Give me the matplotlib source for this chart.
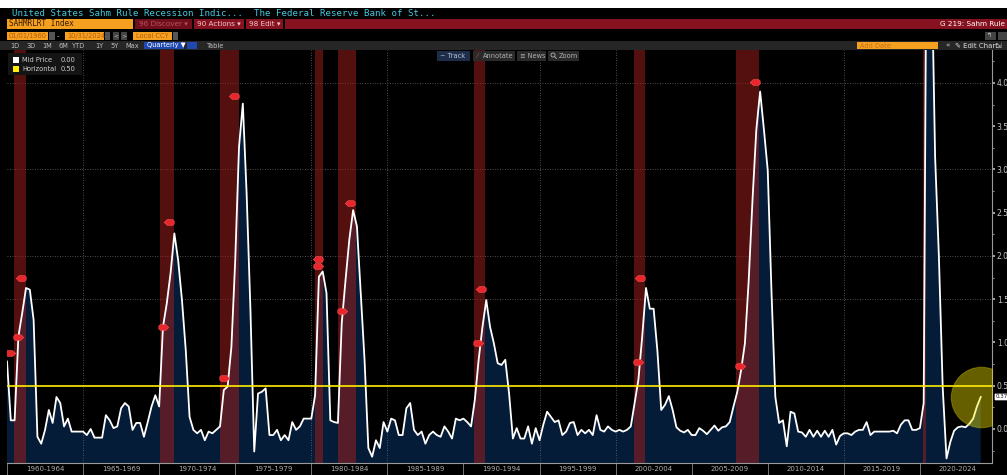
import numpy as np
import matplotlib.pyplot as plt
from matplotlib.patches import Rectangle, Ellipse
from matplotlib.lines import Line2D

W, H = 1007, 475

# Sahm rule indicator, quarterly, 1960 Q1 .. 2024 Q1
sahm_values = [
    0.78, 0.10, 0.10, 1.07, 1.34, 1.63, 1.61, 1.26, -0.09, -0.17,
    -0.01, 0.22, 0.07, 0.37, 0.30, 0.03, 0.12, -0.03, -0.03, -0.03,
    -0.03, -0.07, 0.00, -0.10, -0.10, -0.10, 0.16, 0.10, 0.01, 0.03,
    0.24, 0.30, 0.26, -0.01, 0.07, 0.07, -0.09, 0.08, 0.26, 0.39,
    0.26, 1.18, 1.45, 1.80, 2.26, 1.95, 1.49, 0.91, 0.14, -0.01,
    -0.05, -0.01, -0.13, -0.03, -0.05, -0.01, 0.03, 0.45, 0.49, 0.95,
    1.95, 3.26, 3.76, 2.72, 1.38, -0.26, 0.41, 0.43, 0.47, -0.07,
    -0.07, -0.01, -0.13, -0.07, -0.13, 0.08, -0.01, 0.03, 0.12, 0.12,
    0.12, 0.39, 1.76, 1.82, 1.57, 0.10, 0.08, 0.07, 1.22, 1.72,
    2.19, 2.53, 2.34, 1.57, 0.80, -0.22, -0.32, -0.13, -0.22, 0.08,
    -0.03, 0.12, 0.10, -0.07, -0.07, 0.24, 0.30, -0.01, -0.07, -0.03,
    -0.17, -0.07, -0.03, -0.07, -0.09, 0.03, -0.03, -0.11, 0.12, 0.10,
    0.12, 0.08, 0.03, 0.34, 0.80, 1.18, 1.49, 1.18, 0.99, 0.76,
    0.74, 0.80, 0.41, -0.11, 0.01, -0.11, -0.11, 0.03, -0.17, 0.01,
    -0.13, 0.05, 0.20, 0.14, 0.08, 0.10, -0.07, -0.03, 0.07, 0.08,
    -0.07, -0.01, -0.05, -0.01, -0.07, 0.16, -0.01, -0.03, 0.03, -0.01,
    -0.03, -0.01, -0.03, -0.01, 0.03, 0.30, 0.57, 1.07, 1.63, 1.39,
    1.39, 0.90, 0.22, 0.28, 0.38, 0.22, 0.02, -0.02, -0.04, -0.01,
    -0.07, -0.07, 0.01, -0.02, -0.06, -0.01, 0.04, -0.02, 0.02, 0.03,
    0.08, 0.26, 0.43, 0.68, 0.99, 1.72, 2.65, 3.46, 3.90, 3.46,
    2.99, 1.57, 0.37, 0.07, 0.10, -0.20, 0.20, 0.18, -0.03, -0.04,
    -0.09, -0.01, -0.09, -0.02, -0.09, -0.02, -0.09, -0.01, -0.18, -0.08,
    -0.05, -0.05, -0.07, -0.03, -0.01, -0.01, 0.08, -0.07, -0.03, -0.03,
    -0.03, -0.03, -0.03, -0.02, -0.05, 0.05, 0.10, 0.10, -0.01, -0.01,
    0.01, 0.30, 7.80, 5.60, 3.15, 1.99, 0.48, -0.34, -0.15, -0.02,
    0.02, 0.03, 0.02, 0.06, 0.12, 0.26, 0.37,
]
dates = 1960 + np.arange(len(sahm_values)) * 0.25

threshold = 0.50

# recession shading (decimal years)
rec_start = [1960.49, 1970.03, 1973.98, 1980.22, 1981.75, 1990.71, 2001.22, 2007.92, 2020.19]
rec_end = [1961.23, 1970.95, 1975.22, 1980.74, 1982.96, 1991.43, 2001.95, 2009.43, 2020.41]

# red event tags: (year, value, direction)
tag_years = [1960.22, 1960.75, 1960.95, 1970.28, 1970.67, 1974.28, 1974.94, 1980.46, 1980.46,
             1982.03, 1982.56, 1990.97, 1991.17, 2001.49, 2001.62, 2008.19, 2009.17]
tag_vals = [0.88, 1.06, 1.74, 1.18, 2.39, 0.59, 3.85, 1.96, 1.88,
            1.36, 2.61, 0.99, 1.62, 0.77, 1.75, 0.73, 4.01]
tag_dir = ["R", "R", "L", "R", "L", "R", "L", "L", "R",
           "R", "L", "R", "L", "R", "L", "R", "L"]

period_labels = [f"{y}-{y + 4}" for y in range(1960, 2021, 5)]
grid_years = [1965, 1980, 1985, 1995, 2000, 2015]
grid_levels = [1.5, 2.0, 3.0, 4.0]


def fx(px):
    return px / W


def fy(py):
    return 1 - py / H


def box(x0, y0, x1, y1, color):
    fig.add_artist(Rectangle((fx(x0), fy(y1)), (x1 - x0) / W, (y1 - y0) / H,
                             transform=fig.transFigure, facecolor=color,
                             edgecolor="none", zorder=1))


def label(px, py, s, color, size=5.2, ha="left", **kw):
    fig.text(fx(px), fy(py), s, color=color, fontsize=size, ha=ha, va="center", **kw)


fig = plt.figure(figsize=(W / 100, H / 100), dpi=100, facecolor="black")

# --- Bloomberg style header ---
box(0, 0, W, 8, "white")
box(0, 8, W, 18, "black")
label(12, 13.5, "United States Sahm Rule Recession Indic...  The Federal Reserve Bank of St...",
      "#45c8dc", size=6.6, family="DejaVu Sans Mono")

box(0, 18, W, 30, "black")
box(7, 19, 133, 29, "#f5a01e")
label(9, 24, "SAHMRLRT Index", "#3a1a00", size=5.6, family="DejaVu Sans Mono")
box(135, 19, 192, 29, "#6e0f1b")
label(139, 24, "96 Discover \u25be", "#c0505c", size=5.2)
box(194, 19, 244, 29, "#86111f")
label(197, 24, "90 Actions \u25be", "#f2c6cc", size=5.2)
box(246, 19, 283, 29, "#86111f")
label(249, 24, "98 Edit \u25be", "#f2c6cc", size=5.2)
box(285, 19, W, 29, "#86111f")
label(1005, 24, "G 219: Sahm Rule", "white", size=5.2, ha="right")

box(0, 30, W, 41, "black")
box(7, 32, 48, 40, "#f5a01e")
label(9, 36, "01/01/1960", "#b85a10", size=4.8)
box(49, 32, 55, 40, "#555555")
label(57, 36, "-", "#cccccc", size=5)
box(65, 32, 104, 40, "#f5a01e")
label(67, 36, "10/31/2024", "#b85a10", size=4.8)
box(105, 32, 110, 40, "#555555")
box(113, 32, 119, 40, "#444444")
label(116, 36, "<", "#bbbbbb", size=4.5, ha="center")
box(121, 32, 127, 40, "#444444")
label(124, 36, ">", "#bbbbbb", size=4.5, ha="center")
box(133, 32, 172, 40, "#f5a01e")
label(136, 36, "Local CCY", "#b85a10", size=4.8)
box(173, 32, 178, 40, "#555555")
box(985, 32, 996, 40, "#444444")
label(990, 36, "\u21b0", "#cccccc", size=4.5, ha="center")
box(998, 32, W, 40, "#444444")

box(0, 41, W, 50, "#262626")
for px, s in zip([15, 31, 47, 63, 79, 99, 115, 132],
                 ["1D", "3D", "1M", "6M", "YTD", "1Y", "5Y", "Max"]):
    label(px, 45.5, s, "#bdbdbd", size=4.8, ha="center")
box(144, 42, 184, 49, "#1f48b0")
label(147, 45.5, "Quarterly \u25bc", "white", size=4.8)
box(187, 42, 197, 49, "#1f48b0")
label(207, 45.5, "Table", "#bdbdbd", size=4.8)
box(857, 42, 938, 49, "#f5a01e")
label(860, 45.5, "Add Date", "#c07020", size=4.8)
label(948, 45.5, "\u00ab", "#cccccc", size=5.2, ha="center")
label(955, 45.5, "\u270e Edit Chart", "#dddddd", size=5)
label(999, 45.5, "\u21f2", "#cccccc", size=5, ha="center")

# --- main chart ---
ax = fig.add_axes([fx(7), fy(463), (992 - 7) / W, (463 - 50) / H])
ax.set_facecolor("black")
ymin, ymax = -0.393, 4.38
ax.set_xlim(1960, 2024.74)
ax.set_ylim(ymin, ymax)

for lv in grid_levels:
    ax.axhline(lv, color="#6a6a6a", lw=0.6, ls=(0, (1, 2)), zorder=0.5)
for gx in grid_years:
    ax.axvline(gx, color="#6a6a6a", lw=0.6, ls=(0, (1, 2)), zorder=1.2)

ax.fill_between(dates, sahm_values, ymin, color="#051c38", lw=0, zorder=1)

for s, e in zip(rec_start, rec_end):
    ax.axvspan(s, e, color="#9a1c1c", alpha=0.55, lw=0, zorder=1.5)

ax.plot(dates, sahm_values, color="white", lw=1.3, zorder=3)
ax.axhline(threshold, color="#ffee00", lw=1.2, zorder=3.5)

tag_l = [(-1, 0), (-0.45, 0.55), (0.6, 0.55), (0.9, 0.3), (0.9, -0.3), (0.6, -0.55), (-0.45, -0.55), (-1, 0)]
tag_r = [(-x, y) for x, y in tag_l]
for tx, tv, d in zip(tag_years, tag_vals, tag_dir):
    ax.plot(tx, tv, marker=tag_l if d == "L" else tag_r, ms=7.5, color="#e8262b",
            mec="#ff5555", mew=0.4, zorder=4)

# highlight circle around the latest reading
ax.scatter(dates[-1], sahm_values[-1], s=1900, color="#ffee00", alpha=0.4,
           edgecolors="#c8b800", linewidths=0.8, zorder=5)

# last value badge on the right axis
ax.annotate(f"{sahm_values[-1]:.2f}", xy=(1.0, sahm_values[-1]),
            xycoords=("axes fraction", "data"), xytext=(2.5, 0), textcoords="offset points",
            fontsize=4, color="#111111", va="center", ha="left", annotation_clip=False,
            bbox=dict(boxstyle="round,pad=0.15", fc="white", ec="none"))

# axes styling
for side in ["left", "top"]:
    ax.spines[side].set_visible(False)
ax.spines["bottom"].set_color("#9a9a9a")
ax.spines["bottom"].set_linewidth(0.8)
ax.spines["right"].set_color("#9a9a9a")
ax.spines["right"].set_linewidth(0.8)

ax.yaxis.tick_right()
ax.set_yticks(np.arange(0, 4.01, 0.5))
ax.set_yticklabels([f"{v:.1f}" for v in np.arange(0, 4.01, 0.5)])
ax.set_yticks(np.arange(-0.25, 4.3, 0.25), minor=True)
ax.tick_params(axis="y", which="major", length=2, width=1.2, color="#bbbbbb",
               labelsize=5.5, labelcolor="#c8c8c8", pad=1.5)
ax.tick_params(axis="y", which="minor", length=1.5, width=0.8, color="#888888")

ax.set_xticks(np.arange(1960, 2021, 5))
ax.set_xticklabels([])
ax.tick_params(axis="x", which="major", length=9, width=0.6, color="#888888", direction="out")

for y0, lab in zip(range(1960, 2021, 5), period_labels):
    ax.text(y0 + 2.5, -0.0145, lab, transform=ax.get_xaxis_transform(),
            fontsize=5, color="#b0b0b0", ha="center", va="center", clip_on=False)

# legend box
box(8, 53, 82, 75, "#141414")
box(13, 57, 19, 63, "white")
label(22, 60, "Mid Price", "#d0d0d0", size=4.8)
label(61, 60, "0.00", "#d0d0d0", size=4.8)
box(13, 66, 19, 72, "#ffee00")
label(22, 69, "Horizontal", "#d0d0d0", size=4.8)
label(61, 69, "0.50", "#d0d0d0", size=4.8)

# chart tool strip
box(437, 51, 470, 61, "#1d2d4a")
label(440, 56, "~ Track", "#b8c4d8", size=4.8)
box(473, 51, 515, 61, "#2a2a2a")
label(476, 56, "\u2044", "#e04040", size=5)
label(483, 56, "Annotate", "#b0b0b0", size=4.8)
box(517, 51, 546, 61, "#2a2a2a")
label(520, 56, "\u2261 News", "#b0b0b0", size=4.8)
box(548, 51, 579, 61, "#2a2a2a")
# small magnifier icon
fig.add_artist(Ellipse((fx(553), fy(55)), 4 / W, 4 / H, transform=fig.transFigure,
                       fill=False, edgecolor="#b0b0b0", lw=0.6, zorder=2))
fig.add_artist(Line2D([fx(554.5), fx(556.5)], [fy(56.5), fy(58.5)], transform=fig.transFigure,
                      color="#b0b0b0", lw=0.6, zorder=2))
label(559, 56, "Zoom", "#b0b0b0", size=4.8)

fig.savefig("out.png", dpi=100, facecolor="black")
